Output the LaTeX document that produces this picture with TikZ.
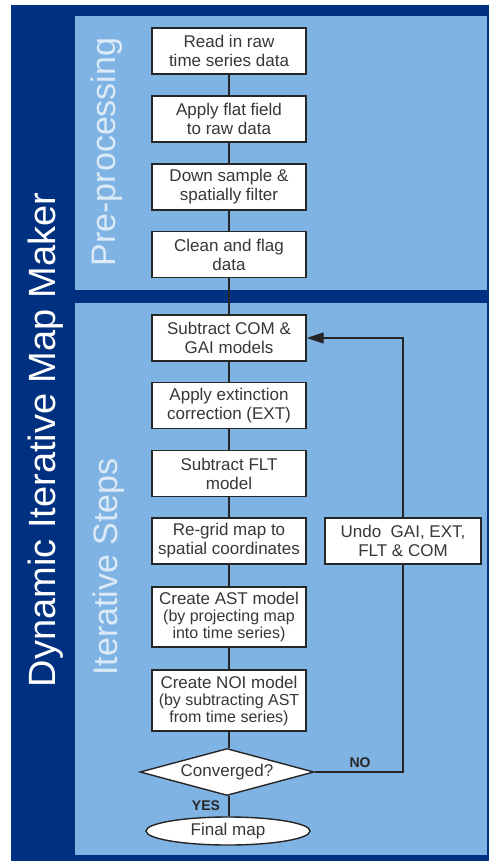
\documentclass[tikz,border=0pt]{standalone}
\usepackage{fontspec}
\setmainfont{Liberation Sans}
\usetikzlibrary{shapes.geometric,arrows.meta}
\definecolor{navy}{RGB}{0,48,128}
\definecolor{panel}{RGB}{127,179,227}
\definecolor{pale}{RGB}{220,234,248}
\definecolor{txt}{RGB}{55,55,55}
\begin{document}
\begin{tikzpicture}[x=1pt,y=-1pt,
  stepbox/.style={draw=black!85, line width=1.4pt, fill=white, minimum width=154pt, minimum height=46pt, inner sep=0pt, align=center, text=txt, font=\fontsize{17}{19}\selectfont},
  tallbox/.style={stepbox, minimum height=60pt, font=\fontsize{16}{17}\selectfont},
  conn/.style={draw=black!85, line width=1.4pt},
  lbl/.style={text=black!85, font=\fontsize{14}{16}\selectfont\bfseries, inner sep=0pt},
  side/.style={rotate=90, anchor=base, inner sep=0pt, text=pale, font=\fontsize{34}{36}\selectfont}]
\useasboundingbox (0,0) rectangle (492,861);
\fill[navy] (11,5) rectangle (489,861);
\fill[panel] (75,16) rectangle (487,290);
\fill[panel] (75,303) rectangle (487,855);

\node[rotate=90, anchor=base, inner sep=0pt, text=white, font=\fontsize{38}{40}\selectfont] (title) at (55,440) {Dynamic Iterative Map Maker};
\node[side] (pre) at (115,152) {Pre-processing};
\node[side] (iter) at (117,567) {Iterative Steps};

\node[stepbox] (b1) at (229,51) {Read in raw\\time series data};
\node[stepbox] (b2) at (229,119) {Apply flat field\\to raw data};
\node[stepbox] (b3) at (229,187) {Down sample \&\\spatially filter};
\node[stepbox] (b4) at (229,254.5) {Clean and flag\\data};
\node[stepbox] (b5) at (229,338) {Subtract COM \&\\GAI models};
\node[stepbox] (b6) at (229,405.5) {Apply extinction\\correction (EXT)};
\node[stepbox] (b7) at (229,473.5) {Subtract FLT\\model};
\node[stepbox] (b8) at (229,541) {Re-grid map to\\spatial coordinates};
\node[tallbox] (b9) at (229,617) {{\fontsize{17}{17}\selectfont Create AST model}\\(by projecting map\\into time series)};
\node[tallbox, minimum height=61pt] (b10) at (229,700.5) {{\fontsize{17}{17}\selectfont Create NOI model}\\(by subtracting AST\\from time series)};
\node[diamond, aspect=3.7, draw=black!85, line width=1.4pt, fill=white, inner sep=0pt, minimum width=174pt, minimum height=47pt, text=txt, font=\fontsize{17}{19}\selectfont] (dia) at (227,772) {Converged?};
\node[ellipse, draw=black!85, line width=1.4pt, fill=white, inner sep=0pt, minimum width=164pt, minimum height=28pt, text=txt, font=\fontsize{17}{19}\selectfont] (fin) at (228,831) {Final map};
\node[stepbox, minimum width=156pt] (undo) at (403,541) {Undo\ \ GAI, EXT,\\FLT \& COM};

\draw[conn] (b1) -- (b2);
\draw[conn] (b2) -- (b3);
\draw[conn] (b3) -- (b4);
\draw[conn] (b4) -- (b5);
\draw[conn] (b5) -- (b6);
\draw[conn] (b6) -- (b7);
\draw[conn] (b7) -- (b8);
\draw[conn] (b8) -- (b9);
\draw[conn] (b9) -- (b10);
\draw[conn] (b10.south) -- (b10.south |- dia.north);
\draw[conn] (dia.south -| b10.south) -- (fin.north -| b10.south);
\draw[conn, -{Triangle[length=17pt,width=11pt]}] (undo.north) |- (b5.east);
\draw[conn] (undo.south) |- (dia.east);

\node[lbl] (no) at (360,763) {NO};
\node[lbl] (yes) at (206,806) {YES};
\end{tikzpicture}
\end{document}
